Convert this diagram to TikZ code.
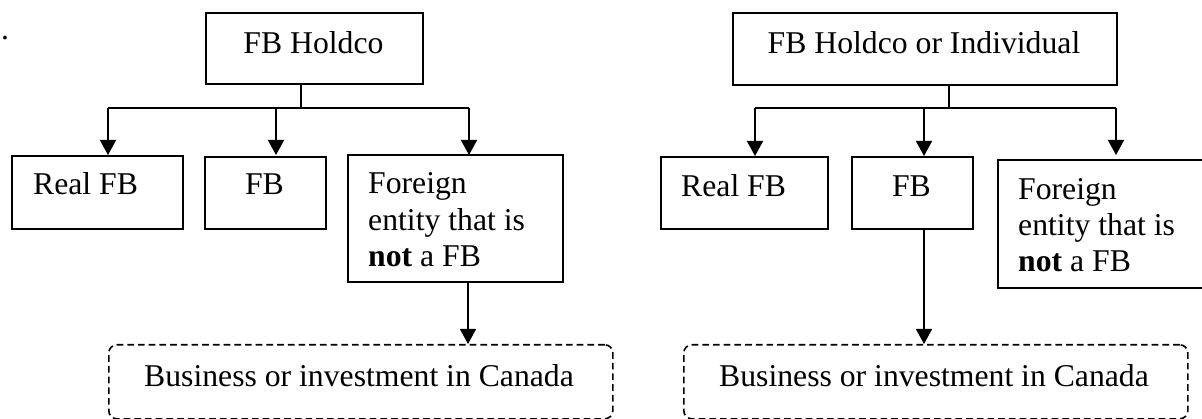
\documentclass[tikz,border=0pt]{standalone}
\usepackage{fontspec}
\setmainfont{Liberation Serif}
\usetikzlibrary{arrows.meta}
\begin{document}
\begin{tikzpicture}[x=1pt,y=-1pt,
  line/.style={line width=1.6pt},
  arr/.style={line width=1.6pt,-{Triangle[length=15pt,width=16pt]}},
  box/.style={draw,line width=1.6pt,inner sep=0pt,anchor=north west},
  dbox/.style={draw,line width=1.6pt,inner sep=0pt,anchor=north west,rounded corners=8pt,dash pattern=on 6.7pt off 4pt},
  txt/.style={inner sep=0pt,font=\fontsize{31.7pt}{36.5pt}\selectfont,anchor=base west},
  ctxt/.style={inner sep=0pt,font=\fontsize{31.7pt}{36.5pt}\selectfont,anchor=base}]
\clip (0,0) rectangle (1202,419);
\fill[white] (0,0) rectangle (1202,419);
% ---------- left diagram ----------
\node[txt] (dot) at (1,40) {.};
\node[box,minimum width=217pt,minimum height=71pt] (holdL) at (205,12) {};
\node[ctxt] (tholdL) at (313.5,54) {FB Holdco};
\node[box,minimum width=171pt,minimum height=73pt] (realL) at (11,155) {};
\node[txt] (trealL) at (33,195) {Real FB};
\node[box,minimum width=121pt,minimum height=72pt] (fbL) at (204,156) {};
\node[ctxt] (tfbL) at (264.5,195) {FB};
\node[box,minimum width=215pt,minimum height=127pt] (forL) at (347,154) {};
\node[txt] (tforL1) at (368,194) {Foreign};
\node[txt] (tforL2) at (368,231) {entity that is};
\node[txt] (tforL3) at (368,267) {\textbf{not} a FB};
\node[dbox,minimum width=504pt,minimum height=74pt] (dashL) at (108,344) {};
\node[txt] (tdashL) at (144,387) {Business or investment in Canada};
\coordinate (jL) at (301,108);
\coordinate (bL1) at (108,108);
\coordinate (bL2) at (276,108);
\coordinate (bL3) at (469,108);
\draw[line] (jL |- holdL.south) -- (jL);
\draw[line] (bL1) -- (bL3);
\draw[arr] (bL1) -- (bL1 |- realL.north);
\draw[arr] (bL2) -- (bL2 |- realL.north);
\draw[arr] (bL3) -- (bL3 |- realL.north);
\coordinate (dL) at (468,281);
\draw[arr] (dL) -- (dL |- dashL.north);
% ---------- right diagram ----------
\node[box,minimum width=384pt,minimum height=72pt] (holdR) at (732,12) {};
\node[ctxt] (tholdR) at (924,54) {FB Holdco or Individual};
\node[box,minimum width=167pt,minimum height=72pt] (realR) at (660,156) {};
\node[txt] (trealR) at (681,197) {Real FB};
\node[box,minimum width=121pt,minimum height=72pt] (fbR) at (851,156) {};
\node[ctxt] (tfbR) at (911.5,197) {FB};
\node[box,minimum width=230pt,minimum height=128pt] (forR) at (997,159) {};
\node[txt] (tforR1) at (1018,200) {Foreign};
\node[txt] (tforR2) at (1018,236) {entity that is};
\node[txt] (tforR3) at (1018,272) {\textbf{not} a FB};
\node[dbox,minimum width=504pt,minimum height=74pt] (dashR) at (683,344) {};
\node[txt] (tdashR) at (719,387) {Business or investment in Canada};
\coordinate (jR) at (949,108);
\coordinate (bR1) at (755,108);
\coordinate (bR2) at (924,108);
\coordinate (bR3) at (1116,108);
\draw[line] (jR |- holdR.south) -- (jR);
\draw[line] (bR1) -- (bR3);
\draw[arr] (bR1) -- (bR1 |- realR.north);
\draw[arr] (bR2) -- (bR2 |- realR.north);
\draw[arr] (bR3) -- (bR3 |- realL.north);
\coordinate (dR) at (924,228);
\draw[arr] (dR) -- (dR |- dashR.north);
\end{tikzpicture}
\end{document}
